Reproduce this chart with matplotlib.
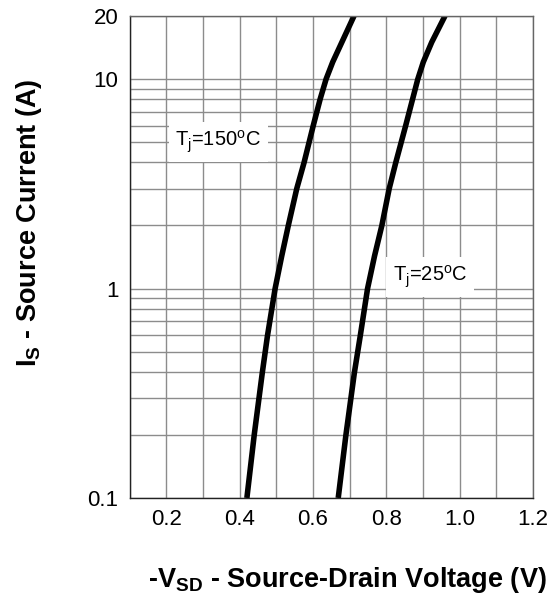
import numpy as np
from matplotlib import pyplot as plt
from matplotlib.ticker import FixedLocator, NullFormatter

plt.rcParams['font.family'] = ['Liberation Sans', 'DejaVu Sans']
plt.rcParams['mathtext.fontset'] = 'custom'
plt.rcParams['mathtext.rm'] = 'Liberation Sans'
plt.rcParams['mathtext.bf'] = 'Liberation Sans:bold'
plt.rcParams['mathtext.it'] = 'Liberation Sans:italic'

# Source current (A) and source-drain voltage (V)
i_curve = [0.1, 0.2, 0.396, 0.593, 1.0, 1.43, 2.0, 3.0, 4.0, 6.0, 8.05,
           10.0, 12.06, 15.0, 20.0]
v_150 = [0.420, 0.440, 0.462, 0.476, 0.497, 0.515, 0.533, 0.556, 0.576,
         0.601, 0.620, 0.636, 0.654, 0.679, 0.712]
v_25 = [0.669, 0.690, 0.713, 0.729, 0.749, 0.768, 0.788, 0.808, 0.826,
        0.853, 0.872, 0.886, 0.901, 0.924, 0.960]

xticks = [0.2, 0.4, 0.6, 0.8, 1.0, 1.2]
yticks = [0.1, 1, 10, 20]
ytick_labels = ['0.1', '1', '10', '20']

dpi = 100.0
W, H = 557.0, 596.0
fig = plt.figure(figsize=(W / dpi, H / dpi), dpi=dpi)
ax = fig.add_axes([129.5 / W, 1 - 498 / H, (533 - 129.5) / W, (498 - 16) / H])

ax.set_yscale('log')
ax.set_xlim(0.1, 1.2)
ax.set_ylim(0.1, 20)

# grid
ax.xaxis.set_major_locator(FixedLocator(xticks))
ax.xaxis.set_minor_locator(FixedLocator(np.arange(0.1, 1.21, 0.1)))
ax.yaxis.set_major_locator(FixedLocator(yticks))
minor_y = [m * d for d in (0.1, 1, 10) for m in range(1, 10)] + [20]
ax.yaxis.set_minor_locator(FixedLocator(minor_y))
ax.yaxis.set_minor_formatter(NullFormatter())
ax.set_yticklabels(ytick_labels)
ax.set_xticklabels(['%.1f' % t for t in xticks])
ax.grid(True, which='both', color='#8c8c8c', linewidth=1.0)
ax.tick_params(which='both', length=0, labelsize=16, colors='black')
ax.tick_params(axis='x', pad=8)
ax.tick_params(axis='y', pad=8)
for s in ('top', 'right'):
    ax.spines[s].set_color('#666666')
for s in ('left', 'bottom'):
    ax.spines[s].set_color('#222222')
for s in ax.spines.values():
    s.set_linewidth(1.0)
ax.set_axisbelow(True)

ax.plot(v_150, i_curve, color='black', linewidth=4, solid_capstyle='butt')
ax.plot(v_25, i_curve, color='black', linewidth=4, solid_capstyle='butt')

box = dict(facecolor='white', edgecolor='none', pad=5)
ax.text(0.225, 5.0, r'T$_\mathrm{j}$=150$^\mathrm{o}$C', fontsize=14.5,
        va='center', ha='left', bbox=box)
ax.text(0.818, 1.14, r'T$_\mathrm{j}$=25$^\mathrm{o}$C', fontsize=14.5,
        va='center', ha='left', bbox=box)

fig.text(347 / W, 1 - 580 / H, r'-V$_{\mathbf{SD}}$ - Source-Drain Voltage (V)',
         fontsize=19.5, fontweight='bold', ha='center', va='center')
fig.text(29 / W, 1 - 223 / H, r'I$_{\mathbf{S}}$ - Source Current (A)',
         fontsize=19.5, fontweight='bold', ha='center', va='center',
         rotation=90)

fig.savefig('out.png', dpi=dpi)
